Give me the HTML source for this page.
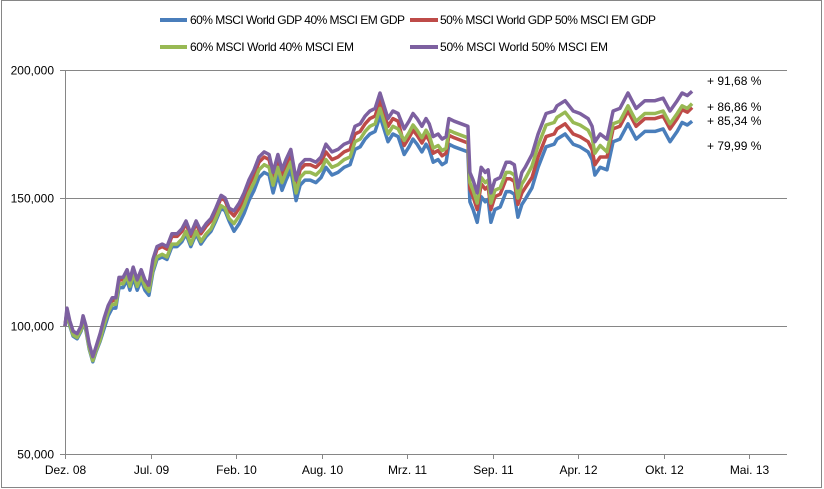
<!DOCTYPE html>
<html><head><meta charset="utf-8"><style>
html,body{margin:0;padding:0;background:#fff;}
svg{display:block;font-family:"Liberation Sans",sans-serif;}
</style></head><body>
<svg id="chart" width="824" height="489" viewBox="0 0 824 489">
<rect x="1.5" y="0.5" width="820" height="487" fill="#fff" stroke="#868686"/>
<g id="grid"></g>
<g id="axes"></g>
<g id="series"></g>
<g id="legend" font-size="12" fill="#000" xml:space="preserve">
  <line x1="160" y1="20" x2="187" y2="20" stroke="#4a7ebb" stroke-width="4"/>
  <text x="190" y="24" textLength="215">60% MSCI World GDP 40% MSCI EM GDP</text>
  <line x1="410" y1="20" x2="438" y2="20" stroke="#be4b48" stroke-width="4"/>
  <text x="440" y="24" textLength="216">50% MSCI World GDP 50% MSCI EM GDP</text>
  <line x1="160" y1="47" x2="187" y2="47" stroke="#98b954" stroke-width="4"/>
  <text x="190" y="51" textLength="164">60% MSCI World 40% MSCI EM</text>
  <line x1="410" y1="47" x2="438" y2="47" stroke="#7d60a0" stroke-width="4"/>
  <text x="440" y="51" textLength="168">50% MSCI World  50% MSCI EM</text>
</g>
<g id="annot" font-size="12" fill="#000"></g>
</svg>
<script>
const days=[0,5,12,20,30,40,45,52,60,69,77,87,97,107,117,126,134,144,154,161,169,179,189,198,208,218,228,241,253,265,278,290,300,312,325,337,350,362,374,387,397,407,419,432,444,456,469,481,494,506,516,528,538,548,560,573,583,595,608,622,635,647,662,677,692,707,719,732,744,756,769,781,791,801,813,826,841,853,863,873,885,895,903,913,925,935,945,952,965,999,1004,1012,1022,1032,1042,1049,1056,1066,1079,1094,1104,1114,1123,1133,1141,1158,1173,1193,1213,1220,1240,1260,1277,1297,1307,1314,1327,1344,1359,1376,1396,1416,1438,1463,1483,1500,1518,1530,1543,1555];
const purple=[100,107,102,98,97,100,104,100,93,88,92,97,103,108,111,111,119,119,122,118,123,118,122,118,116,126,131,132,131,136,136,138,141,136,141,137,140,142,146,151,150,146,145,148,152,157,161,166,168,167,160,167,161,165,169,157,163,165,165,164,166,171,168,169,171,172,178,179,182,184,185,191,186,181,184,183,177,180,183,181,178,181,179,174,175,173,174,181,180,178,160,157,152,162,160,161,152,157,158,164,164,163,154,160,162,167,175,183,184,186,188,184,183,181,178,172,175,173,184,185,191,185,188,188,189,184,188,191,190,191.68];
const red=[100,106,101,97,96,99,103,99,92,87,91,96,102,107,110,110,118,118,121,117,122,117,121,117,115,125,130,131,130,135,135,137,140,135,140,136,139,141,145,150,149,145,143,146,150,155,159,164,166,165,158,165,159,163,167,155,161,163,163,162,164,168,165,166,168,169,175,176,179,181,182,188,183,178,181,180,170.5,173.5,176.5,174.5,171.5,174.5,172.5,167.5,168.5,166.5,167.5,174.5,173.5,171.5,153.5,150.5,145.5,155.5,153.5,154.5,145.5,150.5,151.5,157.5,157.5,156.5,147.5,152,154,158,166,174,175,177,179,175,174,172,169,163,166,166,177,178,184,178,181,181,182,177,181,184.5,183.5,185.34];
const green=[100,105.5,100.5,96.5,95.5,98.5,102.5,98.5,91.5,86.5,90.5,94.5,100.5,105.5,108.5,108.5,116.5,116.5,119.5,115.5,120.5,115.5,119.5,115.5,113.5,122,127,128,127,132,132,134,137,132,137,133,136,138,142,147,146,142,140,143,147,152,156,161,163,162,155,162,156,160,164,152,158,160,160,159,161,165,162,163,165,166,172,173,176,178,179,185,180,175,178,177,172.5,175.5,178.5,176.5,173.5,176.5,174.5,169.5,170.5,168.5,169.5,176.5,175.5,173.5,156,153,148,158,156,157,148,153,154,160,160,159,150,155.5,157.5,162.5,170.5,178.5,179.5,181.5,183.5,179.5,178.5,176.5,173.5,167.5,170.5,168,179,180,186,180,183,183,184,179,183,186,185,186.86];
const blue=[100,105,100,96,95,98,102,98,91,86,90,94,99,104,107,107,115,115,118,114,119,114,118,114,112,121,126,127,126,131,131,133,136,131,136,132,135,137,141,146,145,141,137,140,144,149,153,158,160,159,152,159,153,157,161,149,155,157,157,156,158,162,159,160,162,163,169,170,173,175,176,182,177,172,175,174,167,170,173,171,168,171,169,164,165,163,164,171,170,168,148.5,145.5,140.5,150.5,148.5,149.5,140.5,145.5,146.5,152.5,152.5,151.5,142.5,147.5,149.5,154,162,170,171,173,175,171,170,168,165,159,162,161,172,173,179,173,176,176,177,172,176,179.5,178.5,179.99];
const xTickLabels=["Dez. 08","Jul. 09","Feb. 10","Aug. 10","Mrz. 11","Sep. 11","Apr. 12","Okt. 12","Mai. 13"];
const yTicks=[50,100,150,200];
const yTickLabels=["50,000","100,000","150,000","200,000"];
const endLabels=["+ 91,68 %","+ 86,86 %","+ 85,34 %","+ 79,99 %"];
const endLabelValues=[195.7,185.5,180.1,170.3];

const NS="http://www.w3.org/2000/svg";
const X0=65,X1=787,Y0=454,Y1=70,DAYS_PER_TICK=212;
function xs(d){return X0+d*(85.5/DAYS_PER_TICK);}
function ys(v){return Y0-(v-50)/150*(Y0-Y1);}
function mk(tag,attrs,parent){const e=document.createElementNS(NS,tag);for(const k in attrs)e.setAttribute(k,attrs[k]);parent.appendChild(e);return e;}
const grid=document.getElementById('grid'),axes=document.getElementById('axes'),ser=document.getElementById('series'),ann=document.getElementById('annot');
yTicks.forEach((t,i)=>{
  const y=Math.round(ys(t))+0.5;
  const l=mk('line',{x1:X0,x2:X1,y1:y,y2:y,stroke:'#868686','stroke-width':1},grid);
  
  
  const tk=mk('line',{x1:X0-5,x2:X0,y1:y,y2:y,stroke:'#868686'},axes);
  
  
  const tx=mk('text',{x:54,y:y+4,'text-anchor':'end','font-size':12},axes);
  tx.textContent=yTickLabels[i];
  
  
});
const ya=mk('line',{x1:X0+0.5,x2:X0+0.5,y1:Y1,y2:Y0,stroke:'#868686'},axes);


xTickLabels.forEach((lab,i)=>{
  const x=Math.round(xs(i*DAYS_PER_TICK))+0.5;
  const tk=mk('line',{x1:x,x2:x,y1:Y0,y2:Y0+5,stroke:'#868686'},axes);
  
  
  const tx=mk('text',{x:x,y:474,'text-anchor':'middle','font-size':12},axes);
  tx.textContent=lab;
  
  
});
const seriesList=[['blue',blue,'#4a7ebb'],['red',red,'#be4b48'],['green',green,'#98b954'],['purple',purple,'#7d60a0']];
seriesList.forEach(s=>{
  const pts=s[1].map((v,i)=>xs(days[i]).toFixed(1)+','+ys(v).toFixed(1)).join(' ');
  const p=mk('polyline',{points:pts,fill:'none',stroke:s[2],'stroke-width':3.5,'stroke-linejoin':'round'},ser);
  
  
});
endLabels.forEach((t,i)=>{
  const tx=mk('text',{x:707,y:ys(endLabelValues[i])+4},ann);
  tx.textContent=t;
  
  
});
</script>
</body></html>
